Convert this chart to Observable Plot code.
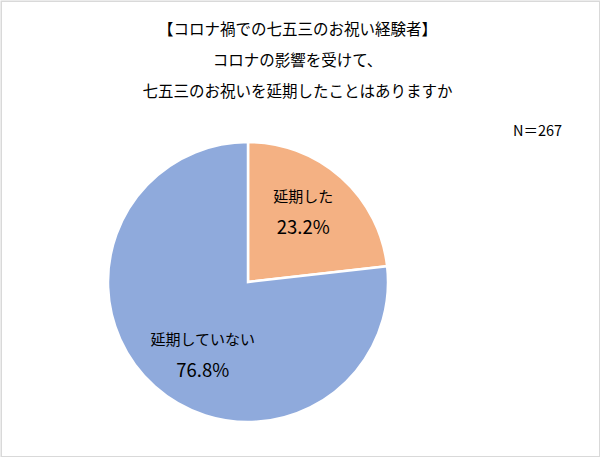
<!DOCTYPE html>
<html>
<head>
<meta charset="utf-8">
<script src="https://cdn.jsdelivr.net/npm/d3@7"></script>
<script src="https://cdn.jsdelivr.net/npm/@observablehq/plot@0.6"></script>
<style>
  html, body { margin: 0; padding: 0; background: #fff; }
  svg { display: block; }
</style>
</head>
<body>
<div id="chart"></div>
<script>
const titleLines = ["【コロナ禍での七五三のお祝い経験者】", "コロナの影響を受けて、", "七五三のお祝いを延期したことはありますか"];
const note = "N＝267";
const categories = ["延期した", "延期していない"];
const values = [23.2, 76.8];
const sliceColors = ["#F4B183", "#8FAADC"];

const W = 600, H = 457;
const cx = 248, cy = 282, R = 140;
const font = "'Noto Sans CJK JP', 'Noto Sans', sans-serif";

const color = Plot.scale({color: {domain: categories, range: sliceColors}});
const pie = d3.pie().sort(null).value(d => d.value);
const data = categories.map((c, i) => ({category: c, value: values[i]}));
const arcs = pie(data);
const arc = d3.arc().innerRadius(0).outerRadius(R);
const labelArc = d3.arc().innerRadius(R * 0.62).outerRadius(R * 0.62);

const labels = arcs.map((a, i) => {
  const [lx, ly] = labelArc.centroid(a);
  const nudge = i === 1 ? [12, 8] : [-3, -6];
  return {x: cx + lx + nudge[0], y: cy + ly + nudge[1], name: a.data.category, pct: a.data.value.toFixed(1) + "%"};
});

const pieMark = () => {
  const g = d3.create("svg:g").attr("transform", `translate(${cx},${cy})`);
  g.selectAll("path").data(arcs).join("path")
    .attr("d", arc)
    .attr("fill", d => color.apply(d.data.category))
    .attr("stroke", "#fff")
    .attr("stroke-width", 2.5)
    .attr("stroke-linejoin", "miter");
  return g.node();
};

const titleData = titleLines.map((t, i) => ({t, y: 30 + i * 31}));

const chart = Plot.plot({
  width: W, height: H,
  margin: 0,
  x: {type: "identity", axis: null},
  y: {type: "identity", axis: null},
  style: {fontFamily: font, background: "#fff"},
  marks: [
    pieMark,
    Plot.text(titleData, {x: 297, y: "y", text: "t", fontSize: 15.5, fill: "#000", textAnchor: "middle"}),
    Plot.text([note], {x: 537, y: 131, text: d => d, fontSize: 14.5, fill: "#000", textAnchor: "middle"}),
    Plot.text(labels, {x: "x", y: d => d.y - 15, text: "name", fontSize: 15, fill: "#000"}),
    Plot.text(labels, {x: "x", y: d => d.y + 16, text: "pct", fontSize: 18.5, fill: "#000"}),
    Plot.frame({stroke: "#d9d9d9", strokeWidth: 1.5, inset: 0.75})
  ]
});
document.getElementById("chart").appendChild(chart);
</script>
</body>
</html>
